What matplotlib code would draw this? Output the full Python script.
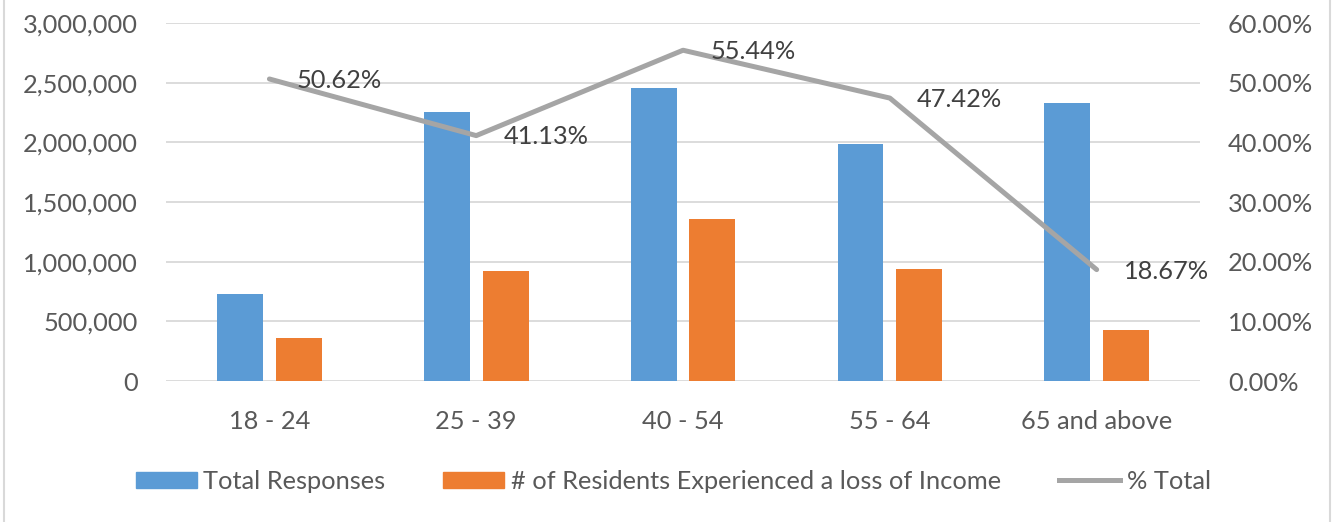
import numpy as np
import matplotlib
matplotlib.use("Agg")
import matplotlib.pyplot as plt
import matplotlib.transforms as mtransforms
from matplotlib.lines import Line2D
from matplotlib.patches import Patch
from matplotlib.ticker import FuncFormatter, MultipleLocator

# --- data ---
age_groups = ["18 - 24", "25 - 39", "40 - 54", "55 - 64", "65 and above"]
total_responses = [727000, 2252000, 2452000, 1983000, 2332000]
lost_income = [360000, 922000, 1355000, 936000, 430000]
pct_total = [0.5062, 0.4113, 0.5544, 0.4742, 0.1867]

BLUE = "#5B9BD5"
ORANGE = "#ED7D31"
GRAY = "#A5A5A5"
TXT = "#595959"
GRID = "#D9D9D9"

plt.rcParams["font.family"] = ["Lato", "DejaVu Sans"]
FS = 18.3

fig = plt.figure(figsize=(13.41, 5.22), dpi=100)
ax = fig.add_axes([0.1238, 0.2701, 0.8949 - 0.1238, 0.9559 - 0.2701])
ax2 = ax.twinx()

x = np.arange(len(age_groups))
w = 0.222
off = 0.142
ax.bar(x - off, total_responses, w, color=BLUE, zorder=2, label="Total Responses")
ax.bar(x + off, lost_income, w, color=ORANGE, zorder=2,
       label="# of Residents Experienced a loss of Income")

ax2.plot(x, pct_total, color=GRAY, lw=3.6, solid_capstyle="round",
         solid_joinstyle="round", zorder=3, label="% Total")
for xi, p in zip(x, pct_total):
    ax2.annotate(f"{p:.2%}", (xi, p), xytext=(19.5, -1), textcoords="offset points",
                 ha="left", va="center", fontsize=FS, color="#404040")

ax.set_xlim(-0.5, len(age_groups) - 0.5)
ax.set_ylim(0, 3000000)
ax2.set_ylim(0, 0.6)
ax.yaxis.set_major_locator(MultipleLocator(500000))
ax2.yaxis.set_major_locator(MultipleLocator(0.1))
ax.yaxis.set_major_formatter(FuncFormatter(lambda v, _: f"{v:,.0f}"))
ax2.yaxis.set_major_formatter(FuncFormatter(lambda v, _: f"{v:.2%}"))

ax.set_xticks(x)
ax.set_xticklabels(age_groups)
shift = mtransforms.ScaledTranslation(12 / 100, 0, fig.dpi_scale_trans)
for lbl in ax.get_xticklabels():
    lbl.set_transform(lbl.get_transform() + shift)

ax.grid(axis="y", color=GRID, lw=1.3, zorder=0)
ax.set_axisbelow(True)
for a in (ax, ax2):
    for s in a.spines.values():
        s.set_visible(False)
    a.tick_params(length=0, labelsize=FS, labelcolor=TXT)
ax.tick_params(axis="y", pad=20)
ax2.tick_params(axis="y", pad=20)
ax.tick_params(axis="x", pad=21)

handles = [Patch(color=BLUE), Patch(color=ORANGE), Line2D([], [], color=GRAY, lw=3.6)]
labels = ["Total Responses", "# of Residents Experienced a loss of Income", "% Total"]
leg = fig.legend(handles, labels, loc="center", bbox_to_anchor=(0.502, 1 - 481.5 / 522),
                 ncol=3, frameon=False, fontsize=FS, handlelength=2.4, handleheight=0.6,
                 handletextpad=0.25, columnspacing=2.3)
for t in leg.get_texts():
    t.set_color(TXT)

# chart area border (left and right edges)
for xf in (4 / 1341, 1330 / 1341):
    fig.add_artist(Line2D([xf, xf], [0, 1], transform=fig.transFigure, color=GRID, lw=1.5))

fig.savefig("out.png", dpi=100, facecolor="white")
